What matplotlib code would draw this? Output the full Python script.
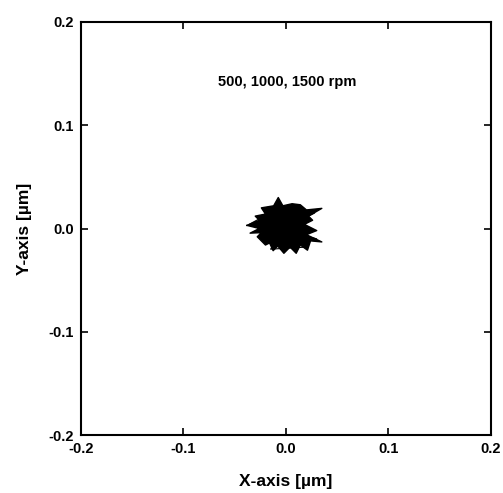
import matplotlib
matplotlib.use("Agg")
import matplotlib.pyplot as plt

# Orbit trace (µm) (jagged, star-like blob)
orbit_x = [-0.038, -0.026, -0.030, -0.020, -0.024, -0.012, -0.0075, -0.003, 0.006,
           0.014, 0.020, 0.035, 0.022, 0.026, 0.018, 0.030, 0.020, 0.035, 0.024,
           0.021, 0.014, 0.010, 0.004, -0.002, -0.008, -0.0125, -0.016, -0.020,
           -0.028, -0.024, -0.035, -0.026, -0.038]
orbit_y = [0.003, 0.008, 0.012, 0.014, 0.020, 0.022, 0.030, 0.022, 0.024,
           0.023, 0.018, 0.0195, 0.012, 0.008, 0.004, -0.002, -0.006, -0.013, -0.012,
           -0.021, -0.016, -0.024, -0.018, -0.024, -0.017, -0.0215, -0.014, -0.016,
           -0.008, -0.004, -0.0045, 0.0, 0.003]
# interior strokes of the trace
inner_x = [-0.036, -0.010, 0.028, -0.022, 0.030, -0.030, 0.012, -0.015, 0.020]
inner_y = [0.004, 0.018, 0.015, -0.010, -0.010, 0.006, 0.020, -0.020, -0.018]

xticks = [-0.2, -0.1, 0.0, 0.1, 0.2]
yticks = [-0.2, -0.1, 0.0, 0.1, 0.2]
label_text = "500, 1000, 1500 rpm"

plt.rcParams['font.family'] = ['Liberation Sans', 'DejaVu Sans']
fig = plt.figure(figsize=(5.03, 4.93), dpi=100)
ax = fig.add_axes([0.161, 0.1176, 0.815, 0.8378])

ax.fill(orbit_x, orbit_y, color='black', lw=0)
ax.plot(orbit_x, orbit_y, color='black', lw=1.0)
ax.plot(inner_x, inner_y, color='black', lw=0.8)

ax.set_xlim(-0.2, 0.2)
ax.set_ylim(-0.2, 0.2)
ax.set_xticks(xticks)
ax.set_yticks(yticks)
ax.set_xticklabels([f"{v:.1f}" for v in xticks], fontweight='bold', fontsize=10.5)
ax.set_yticklabels([f"{v:.1f}" for v in yticks], fontweight='bold', fontsize=10.5)
ax.tick_params(direction='in', length=5, width=1.2, top=True, right=True, pad=5)
for s in ax.spines.values():
    s.set_linewidth(1.5)

ax.set_xlabel("X-axis [µm]", fontsize=12.5, fontweight='bold', labelpad=13)
ax.set_ylabel("Y-axis [µm]", fontsize=12.5, fontweight='bold', labelpad=12)
ax.text(0.001, 0.142, label_text, ha='center', va='center', fontsize=10.5, fontweight='bold')

fig.savefig("out.png", dpi=100)
